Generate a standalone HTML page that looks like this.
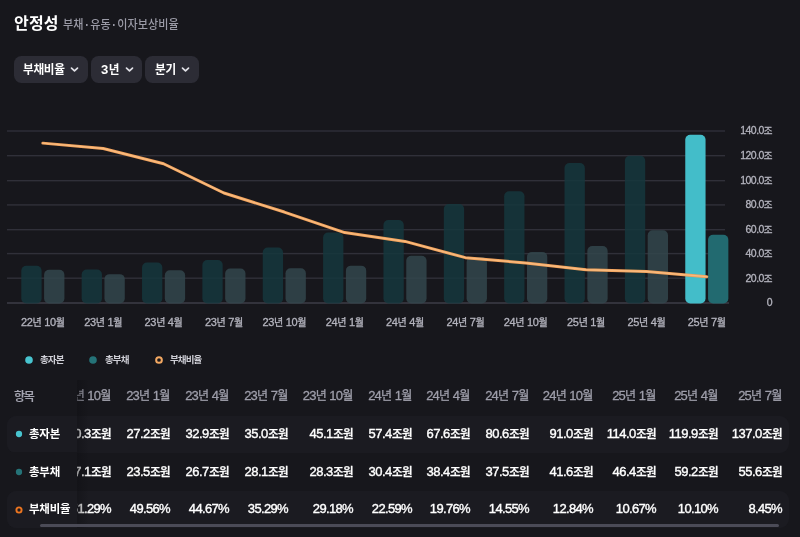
<!DOCTYPE html>
<html lang="ko"><head><meta charset="utf-8"><title>안정성</title>
<style>
html,body{margin:0;padding:0;background:#17171c;}
body{width:800px;height:537px;position:relative;overflow:hidden;font-family:"Liberation Sans","Noto Sans CJK KR",sans-serif;color:#fff;}
.abs{position:absolute;white-space:nowrap;}
.title{left:14px;top:11.5px;font-size:16px;font-weight:700;line-height:24px;letter-spacing:0.2px;}
.sub{left:63.2px;top:13.5px;font-size:12px;font-weight:500;line-height:22px;color:#9b9ba7;letter-spacing:0;transform:scaleX(0.925);transform-origin:0 0;}
.sub i{font-style:normal;font-weight:700;display:inline-block;width:6.9px;text-align:center;letter-spacing:0;margin-left:0.4px}
.btn{position:absolute;top:56px;height:27.4px;border-radius:7.5px;background:#2c2c35;}
.btn span{position:absolute;top:1.3px;line-height:27px;font-size:12px;font-weight:700;letter-spacing:-0.3px;white-space:nowrap;transform:scaleX(0.97);transform-origin:0 0;}
.btn svg{position:absolute;top:9.3px;}
.xl{-webkit-text-stroke:0.3px #b4b4be;position:absolute;top:314px;width:60px;text-align:center;font-size:11px;line-height:16px;color:#b4b4be;letter-spacing:-0.35px;white-space:nowrap;}
.yl{-webkit-text-stroke:0.3px #b4b4be;position:absolute;left:712px;width:60px;text-align:right;font-size:10.5px;line-height:16px;color:#b4b4be;letter-spacing:-0.55px;white-space:nowrap;}
.xl b{font-weight:400;font-size:10px;letter-spacing:-0.2px;}
.yl b{font-weight:400;font-size:9.5px;}
.lg{position:absolute;top:352.7px;font-size:9.5px;line-height:14px;font-weight:700;color:#cfcfd6;letter-spacing:-0.9px;white-space:nowrap;}
.dot{position:absolute;width:7.6px;height:7.6px;border-radius:50%;}
.ring{position:absolute;width:3.6px;height:3.6px;border-radius:50%;border:2px solid #f3a862;}
.tdot{position:absolute;width:6.4px;height:6.4px;border-radius:50%;}
.tring{position:absolute;width:3.4px;height:3.4px;border-radius:50%;border:1.8px solid #ec7520;}
.rowbg{position:absolute;left:7px;width:782px;border-radius:9px;background:#1b1b21;}
.c{position:absolute;width:70px;text-align:right;white-space:nowrap;line-height:20px;}
.c.h{-webkit-text-stroke:0.3px #9e9eaa;font-size:13px;color:#9e9eaa;letter-spacing:-0.8px;}
.c.v{font-size:13px;font-weight:400;color:#fff;letter-spacing:-0.55px;-webkit-text-stroke:0.38px #fff;}
.c.h b{font-weight:400;font-size:12px;letter-spacing:-0.2px;}
.c.v.p{letter-spacing:-0.65px;}
.c.v b{font-size:11.5px;font-weight:500;letter-spacing:-0.6px;margin-left:0.4px;-webkit-text-stroke:0.3px #fff;}
.sticky{position:absolute;left:0;top:380px;width:78px;height:150px;}
.name{position:absolute;left:28.7px;font-size:11px;font-weight:700;line-height:20px;letter-spacing:-0.2px;white-space:nowrap;transform:scaleX(1.04);transform-origin:0 0;}
</style></head><body>
<div class="abs title">안정성</div>
<div class="abs sub">부채<i>·</i>유동<i>·</i>이자보상비율</div>

<div class="btn" style="left:14px;width:74px"><span style="left:9.3px">부채비율</span><svg style="left:56.3px" width="9" height="9" viewBox="0 0 9 9"><path d="M1.5 3.1 L4.5 5.9 L7.5 3.1" fill="none" stroke="#e2e2e8" stroke-width="1.7" stroke-linecap="round" stroke-linejoin="round"/></svg></div>
<div class="btn" style="left:91px;width:51px"><span style="left:10.2px"><em style="font-style:normal;font-size:13.5px;letter-spacing:0.5px;line-height:20px">3</em>년</span><svg style="left:33.9px" width="9" height="9" viewBox="0 0 9 9"><path d="M1.5 3.1 L4.5 5.9 L7.5 3.1" fill="none" stroke="#e2e2e8" stroke-width="1.7" stroke-linecap="round" stroke-linejoin="round"/></svg></div>
<div class="btn" style="left:145px;width:54px"><span style="left:10px">분기</span><svg style="left:36.3px" width="9" height="9" viewBox="0 0 9 9"><path d="M1.5 3.1 L4.5 5.9 L7.5 3.1" fill="none" stroke="#e2e2e8" stroke-width="1.7" stroke-linecap="round" stroke-linejoin="round"/></svg></div>

<svg class="abs" style="left:0;top:0" width="800" height="340" viewBox="0 0 800 340">
<rect x="7" y="130.30" width="718" height="1.4" fill="#303039"/>
<rect x="7" y="155.00" width="718" height="1.4" fill="#303039"/>
<rect x="7" y="180.00" width="718" height="1.4" fill="#303039"/>
<rect x="7" y="204.20" width="718" height="1.4" fill="#303039"/>
<rect x="7" y="229.00" width="718" height="1.4" fill="#303039"/>
<rect x="7" y="252.90" width="718" height="1.4" fill="#303039"/>
<rect x="7" y="277.50" width="718" height="1.4" fill="#303039"/>
<rect x="7" y="302.30" width="722" height="1.4" fill="#40404a"/>
<rect x="21.30" y="265.77" width="20.3" height="37.63" rx="5" ry="5" fill="rgba(21,55,61,0.85)"/>
<rect x="44.10" y="269.71" width="20.3" height="33.69" rx="5" ry="5" fill="rgba(50,70,76,0.85)"/>
<rect x="81.66" y="269.58" width="20.3" height="33.82" rx="5" ry="5" fill="rgba(21,55,61,0.85)"/>
<rect x="104.46" y="274.13" width="20.3" height="29.27" rx="5" ry="5" fill="rgba(50,70,76,0.85)"/>
<rect x="142.02" y="262.58" width="20.3" height="40.82" rx="5" ry="5" fill="rgba(21,55,61,0.85)"/>
<rect x="164.82" y="270.20" width="20.3" height="33.20" rx="5" ry="5" fill="rgba(50,70,76,0.85)"/>
<rect x="202.38" y="260.00" width="20.3" height="43.40" rx="5" ry="5" fill="rgba(21,55,61,0.85)"/>
<rect x="225.18" y="268.48" width="20.3" height="34.92" rx="5" ry="5" fill="rgba(50,70,76,0.85)"/>
<rect x="262.74" y="247.59" width="20.3" height="55.81" rx="5" ry="5" fill="rgba(21,55,61,0.85)"/>
<rect x="285.54" y="268.23" width="20.3" height="35.17" rx="5" ry="5" fill="rgba(50,70,76,0.85)"/>
<rect x="323.10" y="232.48" width="20.3" height="70.92" rx="5" ry="5" fill="rgba(21,55,61,0.85)"/>
<rect x="345.90" y="265.65" width="20.3" height="37.75" rx="5" ry="5" fill="rgba(50,70,76,0.85)"/>
<rect x="383.46" y="219.95" width="20.3" height="83.45" rx="5" ry="5" fill="rgba(21,55,61,0.85)"/>
<rect x="406.26" y="255.82" width="20.3" height="47.58" rx="5" ry="5" fill="rgba(50,70,76,0.85)"/>
<rect x="443.82" y="203.98" width="20.3" height="99.42" rx="5" ry="5" fill="rgba(21,55,61,0.85)"/>
<rect x="466.62" y="256.93" width="20.3" height="46.47" rx="5" ry="5" fill="rgba(50,70,76,0.85)"/>
<rect x="504.18" y="191.20" width="20.3" height="112.20" rx="5" ry="5" fill="rgba(21,55,61,0.85)"/>
<rect x="526.98" y="251.89" width="20.3" height="51.51" rx="5" ry="5" fill="rgba(50,70,76,0.85)"/>
<rect x="564.54" y="162.94" width="20.3" height="140.46" rx="5" ry="5" fill="rgba(21,55,61,0.85)"/>
<rect x="587.34" y="245.99" width="20.3" height="57.41" rx="5" ry="5" fill="rgba(50,70,76,0.85)"/>
<rect x="624.90" y="155.69" width="20.3" height="147.71" rx="5" ry="5" fill="rgba(21,55,61,0.85)"/>
<rect x="647.70" y="230.27" width="20.3" height="73.13" rx="5" ry="5" fill="rgba(50,70,76,0.85)"/>
<rect x="685.26" y="134.69" width="20.3" height="168.71" rx="5" ry="5" fill="#43bdc9"/>
<rect x="708.06" y="234.69" width="20.3" height="68.71" rx="5" ry="5" fill="#226a70"/>
<polyline points="42.85,143.13 103.21,148.52 163.57,163.76 223.93,193.00 284.29,212.05 344.65,232.59 405.01,241.41 465.37,257.65 525.73,262.98 586.09,269.74 646.45,271.52 706.81,276.66" fill="none" stroke="#f1a25b" stroke-width="3" stroke-linecap="round" stroke-linejoin="round"/>
<polyline points="42.85,143.13 103.21,148.52 163.57,163.76 223.93,193.00 284.29,212.05 344.65,232.59 405.01,241.41 465.37,257.65 525.73,262.98 586.09,269.74 646.45,271.52 706.81,276.66" fill="none" stroke="#f9ba7e" stroke-width="1.4" stroke-linecap="round" stroke-linejoin="round"/>
</svg>
<div class="xl" style="left:12.9px">22<b>년</b> 10<b>월</b></div><div class="xl" style="left:73.2px">23<b>년</b> 1<b>월</b></div><div class="xl" style="left:133.6px">23<b>년</b> 4<b>월</b></div><div class="xl" style="left:193.9px">23<b>년</b> 7<b>월</b></div><div class="xl" style="left:254.3px">23<b>년</b> 10<b>월</b></div><div class="xl" style="left:314.7px">24<b>년</b> 1<b>월</b></div><div class="xl" style="left:375.0px">24<b>년</b> 4<b>월</b></div><div class="xl" style="left:435.4px">24<b>년</b> 7<b>월</b></div><div class="xl" style="left:495.7px">24<b>년</b> 10<b>월</b></div><div class="xl" style="left:556.1px">25<b>년</b> 1<b>월</b></div><div class="xl" style="left:616.5px">25<b>년</b> 4<b>월</b></div><div class="xl" style="left:676.8px">25<b>년</b> 7<b>월</b></div>
<div class="yl" style="top:122.4px">140.0<b>조</b></div><div class="yl" style="top:147.0px">120.0<b>조</b></div><div class="yl" style="top:171.5px">100.0<b>조</b></div><div class="yl" style="top:196.1px">80.0<b>조</b></div><div class="yl" style="top:220.7px">60.0<b>조</b></div><div class="yl" style="top:245.3px">40.0<b>조</b></div><div class="yl" style="top:269.8px">20.0<b>조</b></div><div class="yl" style="top:294.4px">0</div>

<svg class="abs" style="left:22.7px;top:353.8px" width="12" height="12" viewBox="0 0 12 12"><circle cx="6" cy="6" r="3.8" fill="#48c4cf"/></svg><div class="lg" style="left:40px">총자본</div>
<svg class="abs" style="left:87.3px;top:353.8px" width="12" height="12" viewBox="0 0 12 12"><circle cx="6" cy="6" r="3.8" fill="#257378"/></svg><div class="lg" style="left:105px">총부채</div>
<svg class="abs" style="left:152.8px;top:353.8px" width="12" height="12" viewBox="0 0 12 12"><circle cx="6" cy="6" r="2.85" fill="none" stroke="#f3a862" stroke-width="2.0"/></svg><div class="lg" style="left:170px">부채비율</div>

<div class="rowbg" style="top:415.5px;height:37px"></div>
<div class="rowbg" style="top:490.5px;height:37.5px"></div>
<div class="c h" style="left:41px;top:386px">22<b>년</b> 10<b>월</b></div><div class="c h" style="left:100px;top:386px">23<b>년</b> 1<b>월</b></div><div class="c h" style="left:159px;top:386px">23<b>년</b> 4<b>월</b></div><div class="c h" style="left:218px;top:386px">23<b>년</b> 7<b>월</b></div><div class="c h" style="left:283px;top:386px">23<b>년</b> 10<b>월</b></div><div class="c h" style="left:342px;top:386px">24<b>년</b> 1<b>월</b></div><div class="c h" style="left:400px;top:386px">24<b>년</b> 4<b>월</b></div><div class="c h" style="left:459px;top:386px">24<b>년</b> 7<b>월</b></div><div class="c h" style="left:523px;top:386px">24<b>년</b> 10<b>월</b></div><div class="c h" style="left:586px;top:386px">25<b>년</b> 1<b>월</b></div><div class="c h" style="left:648px;top:386px">25<b>년</b> 4<b>월</b></div><div class="c h" style="left:712px;top:386px">25<b>년</b> 7<b>월</b></div><div class="c v" style="left:41px;top:424px">30.3<b>조원</b></div><div class="c v" style="left:100px;top:424px">27.2<b>조원</b></div><div class="c v" style="left:159px;top:424px">32.9<b>조원</b></div><div class="c v" style="left:218px;top:424px">35.0<b>조원</b></div><div class="c v" style="left:283px;top:424px">45.1<b>조원</b></div><div class="c v" style="left:342px;top:424px">57.4<b>조원</b></div><div class="c v" style="left:400px;top:424px">67.6<b>조원</b></div><div class="c v" style="left:459px;top:424px">80.6<b>조원</b></div><div class="c v" style="left:523px;top:424px">91.0<b>조원</b></div><div class="c v" style="left:586px;top:424px">114.0<b>조원</b></div><div class="c v" style="left:648px;top:424px">119.9<b>조원</b></div><div class="c v" style="left:712px;top:424px">137.0<b>조원</b></div><div class="c v" style="left:41px;top:462px">27.1<b>조원</b></div><div class="c v" style="left:100px;top:462px">23.5<b>조원</b></div><div class="c v" style="left:159px;top:462px">26.7<b>조원</b></div><div class="c v" style="left:218px;top:462px">28.1<b>조원</b></div><div class="c v" style="left:283px;top:462px">28.3<b>조원</b></div><div class="c v" style="left:342px;top:462px">30.4<b>조원</b></div><div class="c v" style="left:400px;top:462px">38.4<b>조원</b></div><div class="c v" style="left:459px;top:462px">37.5<b>조원</b></div><div class="c v" style="left:523px;top:462px">41.6<b>조원</b></div><div class="c v" style="left:586px;top:462px">46.4<b>조원</b></div><div class="c v" style="left:648px;top:462px">59.2<b>조원</b></div><div class="c v" style="left:712px;top:462px">55.6<b>조원</b></div><div class="c v p" style="left:41px;top:499px">51.29%</div><div class="c v p" style="left:100px;top:499px">49.56%</div><div class="c v p" style="left:159px;top:499px">44.67%</div><div class="c v p" style="left:218px;top:499px">35.29%</div><div class="c v p" style="left:283px;top:499px">29.18%</div><div class="c v p" style="left:342px;top:499px">22.59%</div><div class="c v p" style="left:400px;top:499px">19.76%</div><div class="c v p" style="left:459px;top:499px">14.55%</div><div class="c v p" style="left:523px;top:499px">12.84%</div><div class="c v p" style="left:586px;top:499px">10.67%</div><div class="c v p" style="left:648px;top:499px">10.10%</div><div class="c v p" style="left:712px;top:499px">8.45%</div>

<div class="abs" style="left:0;top:380px;width:7px;height:157px;background:#17171c"></div>
<div class="abs" style="left:7px;top:380px;width:70px;height:35px;background:#17171c"></div>
<div class="abs" style="left:7px;top:415.5px;width:70px;height:37px;background:#1b1b21;border-radius:9px 0 0 9px"></div>
<div class="abs" style="left:7px;top:452px;width:70px;height:38px;background:#17171c"></div>
<div class="abs" style="left:7px;top:490.5px;width:70px;height:37.5px;background:#1b1b21;border-radius:9px 0 0 9px"></div>
<div class="abs" style="left:77px;top:380px;width:12px;height:148px;background:linear-gradient(to right,rgba(14,14,18,0.42),rgba(14,14,18,0))"></div>

<div class="abs" style="left:14px;top:386.5px;font-size:12px;font-weight:500;line-height:20px;color:#a6a6b2;-webkit-text-stroke:0.2px #a6a6b2;letter-spacing:-1.3px">항목</div>
<svg class="abs" style="left:12.5px;top:427.8px" width="12" height="12" viewBox="0 0 12 12"><circle cx="6" cy="6" r="3.15" fill="#48c4cf"/></svg><div class="name" style="top:424px">총자본</div>
<svg class="abs" style="left:12.5px;top:465.7px" width="12" height="12" viewBox="0 0 12 12"><circle cx="6" cy="6" r="3.15" fill="#257378"/></svg><div class="name" style="top:462px">총부채</div>
<svg class="abs" style="left:12.5px;top:503.6px" width="12" height="12" viewBox="0 0 12 12"><circle cx="6" cy="6" r="2.6" fill="none" stroke="#ec7520" stroke-width="1.9"/></svg><div class="name" style="top:499px">부채비율</div>
<div class="abs" style="left:40px;top:524px;width:739px;height:3px;border-radius:2px;background:#4b4b57"></div>
</body></html>
